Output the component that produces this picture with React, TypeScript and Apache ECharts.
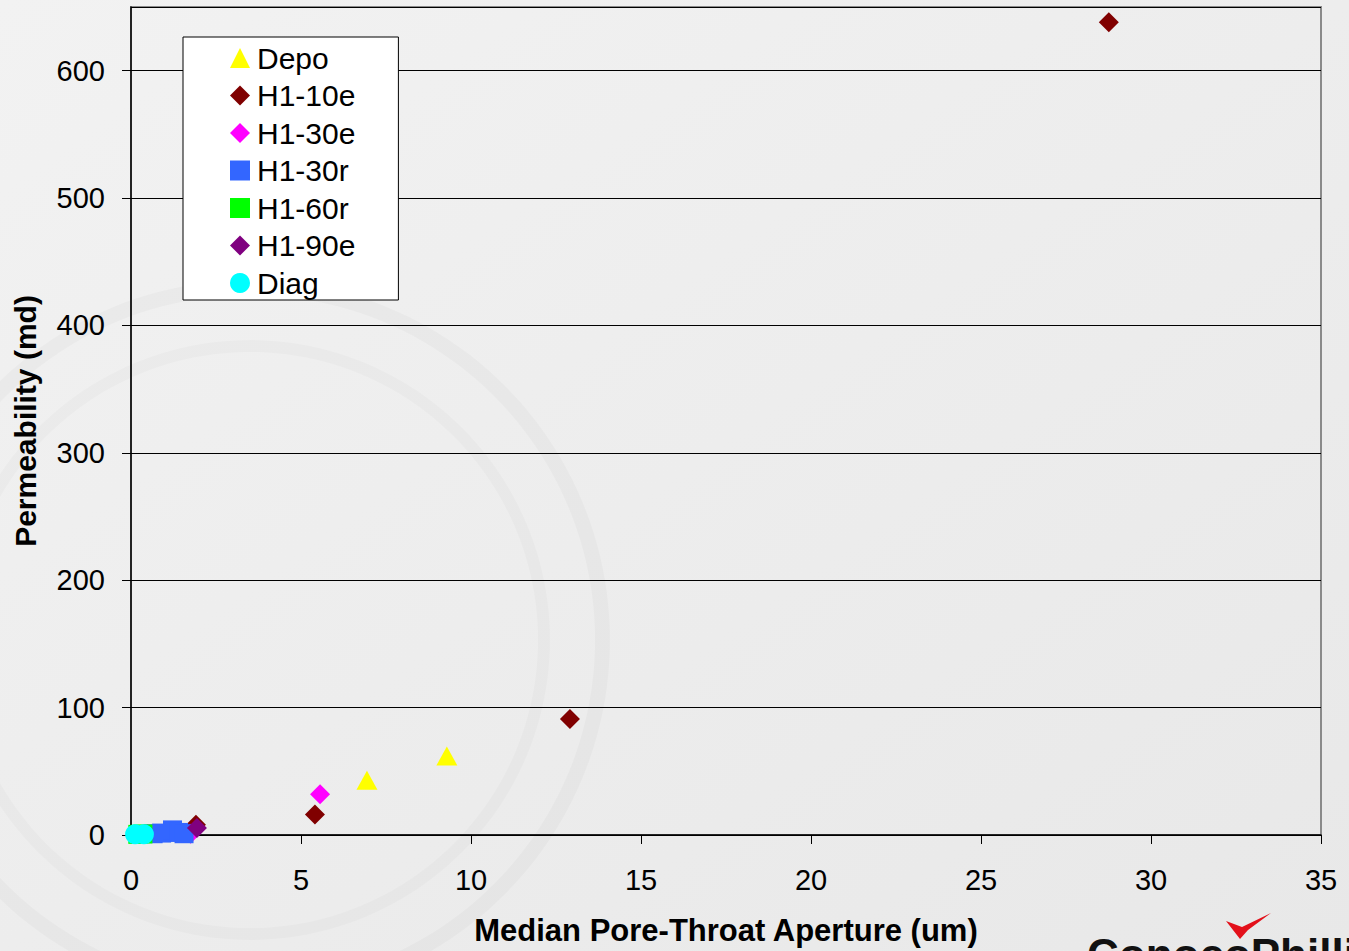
import React, { useEffect, useRef } from "react";
import * as echarts from "echarts";

const seriesNames = ["Depo", "H1-10e", "H1-30e", "H1-30r", "H1-60r", "H1-90e", "Diag"];
const depo: number[][] = [[6.94, 43], [9.29, 62]];
const h110e: number[][] = [[28.76, 638], [12.91, 91], [5.41, 16], [1.91, 8]];
const h130e: number[][] = [[5.56, 32], [1.75, 1]];
const h130r: number[][] = [[0.65, 1], [0.9, 1.5], [1.22, 4], [1.4, 2], [1.56, 1]];
const h160r: number[][] = [[0.2, 0.5], [0.35, 0.8]];
const h190e: number[][] = [[1.94, 5.5]];
const diag: number[][] = [[0.12, 0.5], [0.38, 0.5]];

const xTitle = "Median Pore-Throat Aperture (um)";
const yTitle = "Permeability (md)";

const FONT = "'Liberation Sans', Arial, sans-serif";

export default function App() {
  const ref = useRef<HTMLDivElement>(null);
  useEffect(() => {
    document.body.style.margin = "0";
    const chart = echarts.init(ref.current!, undefined, { renderer: "svg" });
    const mk = (name: string, data: number[][], symbol: string, size: any, color: string) => ({
      name,
      type: "scatter",
      data,
      symbol,
      symbolSize: size,
      itemStyle: { color, opacity: 1 },
      emphasis: { disabled: true },
    });
    chart.setOption({
      animation: false,
      backgroundColor: {
        type: "linear", x: 0, y: 0, x2: 1, y2: 1,
        colorStops: [
          { offset: 0, color: "#f2f2f2" },
          { offset: 1, color: "#e8e8e8" },
        ],
      },
      textStyle: { fontFamily: FONT },
      graphic: [
        { type: "ring", shape: { cx: 250, cy: 640, r: 360, r0: 345 }, style: { fill: "rgba(0,0,0,0.022)" }, silent: true, z: -10 },
        { type: "ring", shape: { cx: 250, cy: 640, r: 300, r0: 288 }, style: { fill: "rgba(0,0,0,0.018)" }, silent: true, z: -10 },
        { type: "text", left: 1087, top: 932, style: { text: "ConocoPhillips", fontSize: 44, fontWeight: "bold", fill: "#111", fontFamily: FONT }, z: 10 },
        { type: "polygon", shape: { points: [[1226, 921], [1242, 927], [1271, 913], [1248, 930], [1240, 939]] }, style: { fill: "#e3101a" }, z: 10 },
      ],
      grid: {
        left: 131, right: 28, top: 7, bottom: 111,
        show: true, borderColor: "#8a8a8a", borderWidth: 2, backgroundColor: "transparent",
      },
      legend: {
        orient: "vertical",
        left: 183, top: 37,
        data: seriesNames,
        backgroundColor: "#ffffff",
        borderColor: "#000000",
        borderWidth: 1,
        borderRadius: 0,
        padding: [6, 43, 2, 47],
        itemWidth: 20,
        itemHeight: 20,
        itemGap: 7.5,
        textStyle: { fontSize: 30, color: "#000", fontFamily: FONT, lineHeight: 30, padding: [0, 0, 0, 2] },
        selectedMode: false,
      },
      xAxis: {
        type: "value",
        min: 0, max: 35, interval: 5,
        name: xTitle,
        nameLocation: "middle",
        nameGap: 80,
        nameTextStyle: { fontSize: 31, fontWeight: "bold", color: "#000", fontFamily: FONT },
        axisLine: { show: true, lineStyle: { color: "#000", width: 1.5 } },
        axisTick: { show: true, inside: false, length: 9, lineStyle: { color: "#000", width: 1 } },
        axisLabel: { fontSize: 29, color: "#000", margin: 30, fontFamily: FONT },
        splitLine: { show: false },
      },
      yAxis: {
        type: "value",
        min: 0, max: 650, interval: 100,
        name: yTitle,
        nameLocation: "middle",
        nameGap: 91,
        nameTextStyle: { fontSize: 30, fontWeight: "bold", color: "#000", fontFamily: FONT },
        axisLine: { show: true, onZero: false, lineStyle: { color: "#000", width: 1.5 } },
        axisTick: { show: true, inside: false, length: 9, lineStyle: { color: "#000", width: 1 } },
        axisLabel: {
          fontSize: 29, color: "#000", margin: 26, fontFamily: FONT, showMaxLabel: false,
          formatter: (v: number) => (v % 100 === 0 ? String(v) : ""),
        },
        splitLine: { show: true, lineStyle: { color: "#000", width: 1 } },
      },
      series: [
        mk("Depo", depo, "triangle", [21, 19], "#ffff00"),
        mk("H1-10e", h110e, "diamond", 20, "#800000"),
        mk("H1-30e", h130e, "diamond", 20, "#ff00ff"),
        mk("H1-30r", h130r, "rect", 19, "#3366ff"),
        mk("H1-60r", h160r, "rect", 19, "#00ff00"),
        mk("H1-90e", h190e, "diamond", 20, "#800080"),
        mk("Diag", diag, "circle", 20, "#00ffff"),
      ],
    });
    return () => chart.dispose();
  }, []);
  return <div ref={ref} style={{ width: 1349, height: 951 }} />;
}
